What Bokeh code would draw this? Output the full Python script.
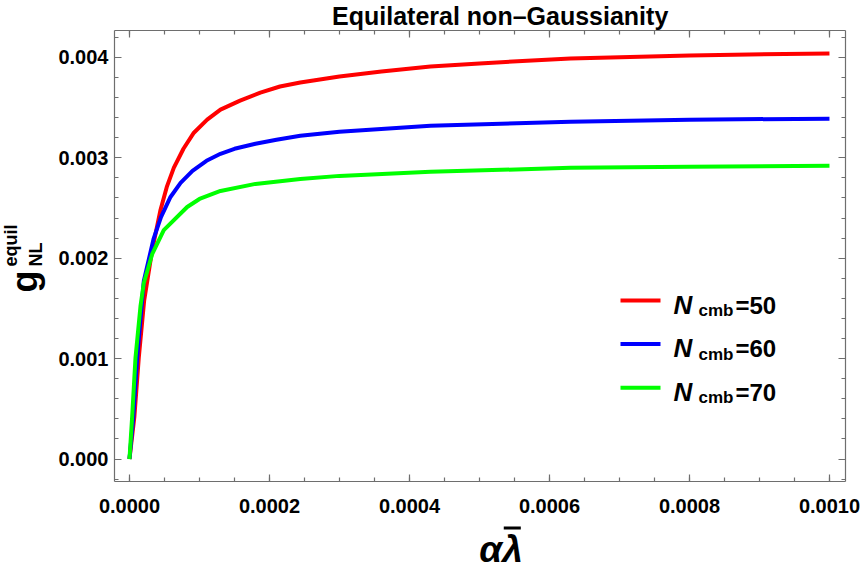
import math
from bokeh.plotting import figure
from bokeh.layouts import row, column
from bokeh.models import (Range1d, LinearAxis, FixedTicker, PrintfTickFormatter,
                          CustomJSTickFormatter, Label, BoxAnnotation)
from bokeh.embed import file_html
from bokeh.resources import INLINE

# ---- data: equilateral g_NL versus alpha*lambda-bar, one curve per N_cmb ----
n_cmb = [50, 60, 70]
colors = ["#ff0000", "#0000ff", "#00ff00"]

red_x = [0, 0.000007, 0.0000133, 0.000021, 0.0000324, 0.0000443, 0.0000533, 0.0000633,
         0.0000771, 0.000092, 0.000111, 0.00013, 0.000158, 0.000187, 0.000215, 0.000244,
         0.0003, 0.00036, 0.00043, 0.0005, 0.00063, 0.0008, 0.001]
red_y = [0, 0.00042, 0.00101, 0.00158, 0.00208, 0.00248, 0.00271, 0.00290,
         0.00309, 0.00325, 0.00338, 0.00348, 0.00357, 0.00365, 0.00371, 0.00375,
         0.00381, 0.00386, 0.00391, 0.00394, 0.00399, 0.00402, 0.00404]

blue_x = [0, 0.0000055, 0.000011, 0.0000204, 0.0000343, 0.000045, 0.0000586, 0.000073,
          0.00009, 0.00011, 0.00013, 0.00015, 0.00018, 0.00021, 0.000244, 0.0003,
          0.00043, 0.00063, 0.0008, 0.001]
blue_y = [0, 0.00042, 0.00101, 0.00177, 0.00219, 0.00241, 0.00261, 0.00275,
          0.00287, 0.00297, 0.00304, 0.00309, 0.00314, 0.00318, 0.00322, 0.00326,
          0.00332, 0.00336, 0.00338, 0.00339]

green_x = [0, 0.0000038, 0.0000086, 0.0000157, 0.0000204, 0.0000324, 0.000049, 0.0000824,
           0.0001, 0.00013, 0.00018, 0.000244, 0.0003, 0.00043, 0.00063, 0.0008, 0.001]
green_y = [0, 0.00042, 0.00101, 0.00152, 0.00175, 0.00204, 0.00228, 0.00251,
           0.00259, 0.00267, 0.00274, 0.00279, 0.00282, 0.00286, 0.00290, 0.00291, 0.00292]

x_ticks = [0.0, 0.0002, 0.0004, 0.0006, 0.0008, 0.0010]
y_ticks = [0.0, 0.001, 0.002, 0.003, 0.004]
x_minor = [i * 0.00005 for i in range(0, 21)]
y_minor = [-0.0002 + i * 0.0002 for i in range(0, 23)]

# ---- page geometry (pixels from the top-left of the page) ----
W, H = 865, 571
LEFT_W = 50          # strip holding the vertical axis title
TOP_H = 30           # strip holding the plot title
BOT_H = 48           # strip holding the horizontal axis title
FL, FR, FT, FB = 114, 845, 30, 481
X_LO, X_HI = -0.0000214, 0.0010229
Y_LO, Y_HI = -0.000224, 0.004268
FRAME = "#6e6e6e"
FONT = "Liberation Sans"
BASE_SHIFT = 0.30    # label anchor sits this many em above the glyph baseline


def sx(px):
    return X_LO + (px - FL) / (FR - FL) * (X_HI - X_LO)


def sy(py):
    return Y_LO + (FB - py) / (FB - FT) * (Y_HI - Y_LO)


def bare(fig):
    fig.title.visible = False
    fig.grid.visible = False
    fig.outline_line_color = None
    fig.background_fill_color = "white"
    fig.border_fill_color = "white"
    return fig


def text_panel(w, h):
    # a blank figure whose data units are its own pixels, y growing downwards
    f = figure(width=w, height=h, output_backend="svg", toolbar_location=None,
               x_range=Range1d(0, w), y_range=Range1d(h, 0), min_border=0,
               x_axis_location=None, y_axis_location=None)
    return bare(f)


def txt(text, x, y, size, style="bold", align="left", angle=0.0):
    return Label(x=x, y=y, text=text, angle=angle, text_font=FONT,
                 text_font_style=style, text_font_size=f"{size}px", text_color="black",
                 text_baseline="alphabetic", text_align=align)


def h_txt(text, px, base, size, **kw):
    """Horizontal text in page pixels (baseline given) for a pixel-unit panel."""
    return txt(text, px, base - BASE_SHIFT * size, size, **kw)


# ---- main plot ----
MAIN_W, MAIN_H = W - LEFT_W, H - TOP_H - BOT_H
p = figure(width=MAIN_W, height=MAIN_H, output_backend="svg", toolbar_location=None,
           x_range=Range1d(X_LO, X_HI), y_range=Range1d(Y_LO, Y_HI),
           x_axis_location=None, y_axis_location=None,
           min_border_left=FL - LEFT_W, min_border_right=W - FR,
           min_border_top=FT - TOP_H, min_border_bottom=(H - BOT_H) - FB)
bare(p)


def frame_axis(ticks, minor, fmt=None, standoff=6):
    ax = LinearAxis(ticker=FixedTicker(ticks=ticks, minor_ticks=minor))
    ax.axis_line_color = FRAME
    ax.axis_line_width = 1.2
    ax.major_tick_line_color = FRAME
    ax.minor_tick_line_color = FRAME
    ax.major_tick_line_width = 1.2
    ax.minor_tick_line_width = 1.2
    ax.major_tick_in = 7
    ax.major_tick_out = 0
    ax.minor_tick_in = 4
    ax.minor_tick_out = 0
    if fmt is None:
        ax.formatter = CustomJSTickFormatter(code="return ''")
        ax.major_label_standoff = 0
        ax.major_label_text_font_size = "1px"
    else:
        ax.formatter = PrintfTickFormatter(format=fmt)
        ax.major_label_text_font = FONT
        ax.major_label_text_font_style = "bold"
        ax.major_label_text_font_size = "20px"
        ax.major_label_text_color = "black"
        ax.major_label_standoff = standoff
    return ax


p.add_layout(frame_axis(x_ticks, x_minor, "%.4f", standoff=17), "below")
p.add_layout(frame_axis(y_ticks, y_minor, "%.3f", standoff=6), "left")
p.add_layout(frame_axis(x_ticks, x_minor), "above")
p.add_layout(frame_axis(y_ticks, y_minor), "right")

for xs, ys, c in [(red_x, red_y, colors[0]), (blue_x, blue_y, colors[1]),
                  (green_x, green_y, colors[2])]:
    p.line(xs, ys, line_color=c, line_width=4, line_join="round")

# legend: swatch, italic N, subscript "cmb", then "=value"
for i, (n, c) in enumerate(zip(n_cmb, colors)):
    yc = 300 + i * 43.6
    p.add_layout(BoxAnnotation(left=sx(620), right=sx(660), top=sy(yc - 2), bottom=sy(yc + 2),
                               fill_color=c, fill_alpha=1.0, line_color=None))
    base = yc + 12
    p.add_layout(txt("N", sx(673), sy(base - BASE_SHIFT * 26), 26, style="bold italic"))
    p.add_layout(txt("cmb", sx(698), sy(base + 3 - BASE_SHIFT * 17), 17))
    p.add_layout(txt(f"={n}", sx(735), sy(base - BASE_SHIFT * 24), 24))

# ---- title strip ----
top = text_panel(MAIN_W, TOP_H)
top.add_layout(h_txt("Equilateral non\u2013Gaussianity", 480 - LEFT_W, 23, 25, align="center"))

# ---- x-axis title strip: alpha lambda with a bar over the lambda ----
bottom = text_panel(MAIN_W, BOT_H)
y0 = H - BOT_H
bottom.add_layout(h_txt("\u03b1\u03bb", 481 - LEFT_W, 560 - y0, 37,
                        style="bold italic", align="center"))
bottom.add_layout(BoxAnnotation(left=484 - LEFT_W, right=503 - LEFT_W,
                                top=526 - y0, bottom=529 - y0,
                                fill_color="black", fill_alpha=1.0, line_color=None))

# ---- y-axis title strip: g with superscript 'equil' and subscript 'NL' ----
left = text_panel(LEFT_W, H)
up = math.pi / 2
left.add_layout(txt("g", 35 - BASE_SHIFT * 36, 292, 36, angle=up))
left.add_layout(txt("equil", 16 - BASE_SHIFT * 18, 266, 18, angle=up))
left.add_layout(txt("NL", 41 - BASE_SHIFT * 18, 266, 18, angle=up))

page = row(left, column(top, p, bottom))
open("out.html", "w").write(file_html(page, INLINE))
